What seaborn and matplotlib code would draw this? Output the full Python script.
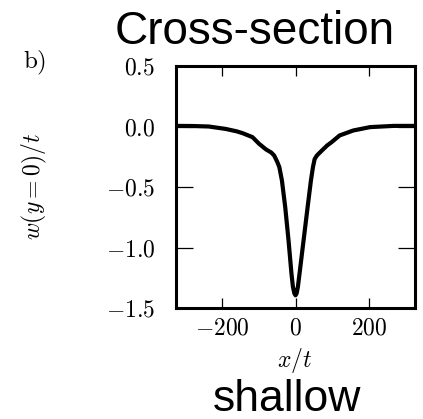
import matplotlib
matplotlib.use("Agg")
import matplotlib.pyplot as plt
import seaborn as sns
import pandas as pd

# Data
x_vals = [-325, -318, -280, -236, -190, -160, -144, -117, -99, -80, -66, -58, -50, -44,
          -37, -28, -19, -11, -7, -3, 0, 3, 6.5, 11, 22, 33, 42, 47.5, 52, 58, 72, 86,
          98, 120, 157, 203, 267, 325]
w_vals = [0.005, 0.005, 0.004, 0.0, -0.02, -0.04, -0.055, -0.088, -0.143, -0.19, -0.215,
          -0.24, -0.29, -0.335, -0.445, -0.665, -0.94, -1.215, -1.325, -1.38, -1.395,
          -1.38, -1.325, -1.215, -0.94, -0.665, -0.445, -0.335, -0.27, -0.24, -0.198,
          -0.157, -0.13, -0.074, -0.033, -0.005, 0.005, 0.005]
x_ticks = [-200, 0, 200]
x_ticklabels = [r"$-200$", r"$0$", r"$200$"]
y_ticks = [0.5, 0.0, -0.5, -1.0, -1.5]
y_ticklabels = [r"$0.5$", r"$0.0$", r"$-0.5$", r"$-1.0$", r"$-1.5$"]
title_text = "Cross-section"
bottom_text = "shallow"
panel_label = r"$\mathrm{b)}$"
x_label = r"$x/t$"
y_label = r"$w(y=0)/t$"

sns.set_style("ticks")
plt.rcParams["mathtext.fontset"] = "cm"
plt.rcParams["font.family"] = ["Liberation Sans", "DejaVu Sans"]
plt.rcParams["text.color"] = "black"
plt.rcParams["axes.labelcolor"] = "black"
plt.rcParams["xtick.color"] = "black"
plt.rcParams["ytick.color"] = "black"

W, H = 423, 419
fig = plt.figure(figsize=(W / 100, H / 100), dpi=100)
ax = fig.add_axes([176 / W, 1 - 308 / H, 239 / W, 242 / H])

df = pd.DataFrame({"x": x_vals, "w": w_vals})
sns.lineplot(data=df, x="x", y="w", ax=ax, color="black", linewidth=3.0, sort=False)

ax.set_xlim(-325, 325)
ax.set_ylim(-1.5, 0.5)
ax.set_xticks(x_ticks, labels=x_ticklabels)
ax.set_yticks(y_ticks, labels=y_ticklabels)

for s in ax.spines.values():
    s.set_visible(True)
    s.set_linewidth(2.2)
    s.set_color("black")

ax.tick_params(axis="both", which="major", direction="in", color="black",
               labelcolor="black", width=0.9, labelsize=17, top=True, right=True)
ax.tick_params(axis="y", length=12, pad=15)
ax.tick_params(axis="x", length=7, pad=7)

ax.set_xlabel(x_label, fontsize=17, va="center", color="black")
ax.xaxis.set_label_coords(0.498, -0.215)
ax.set_ylabel(y_label, fontsize=17, va="center", ha="center", color="black")
ax.yaxis.set_label_coords(-0.594, 0.5)

fig.text(255 / W, 1 - 44 / H, title_text, fontsize=33, ha="center", va="baseline",
         color="black")
fig.text(287 / W, 1 - 411 / H, bottom_text, fontsize=32, ha="center", va="baseline",
         color="black")
fig.text(35 / W, 1 - 63 / H, panel_label, fontsize=18, ha="center", va="center",
         color="black")

fig.savefig("out.png", dpi=100)
